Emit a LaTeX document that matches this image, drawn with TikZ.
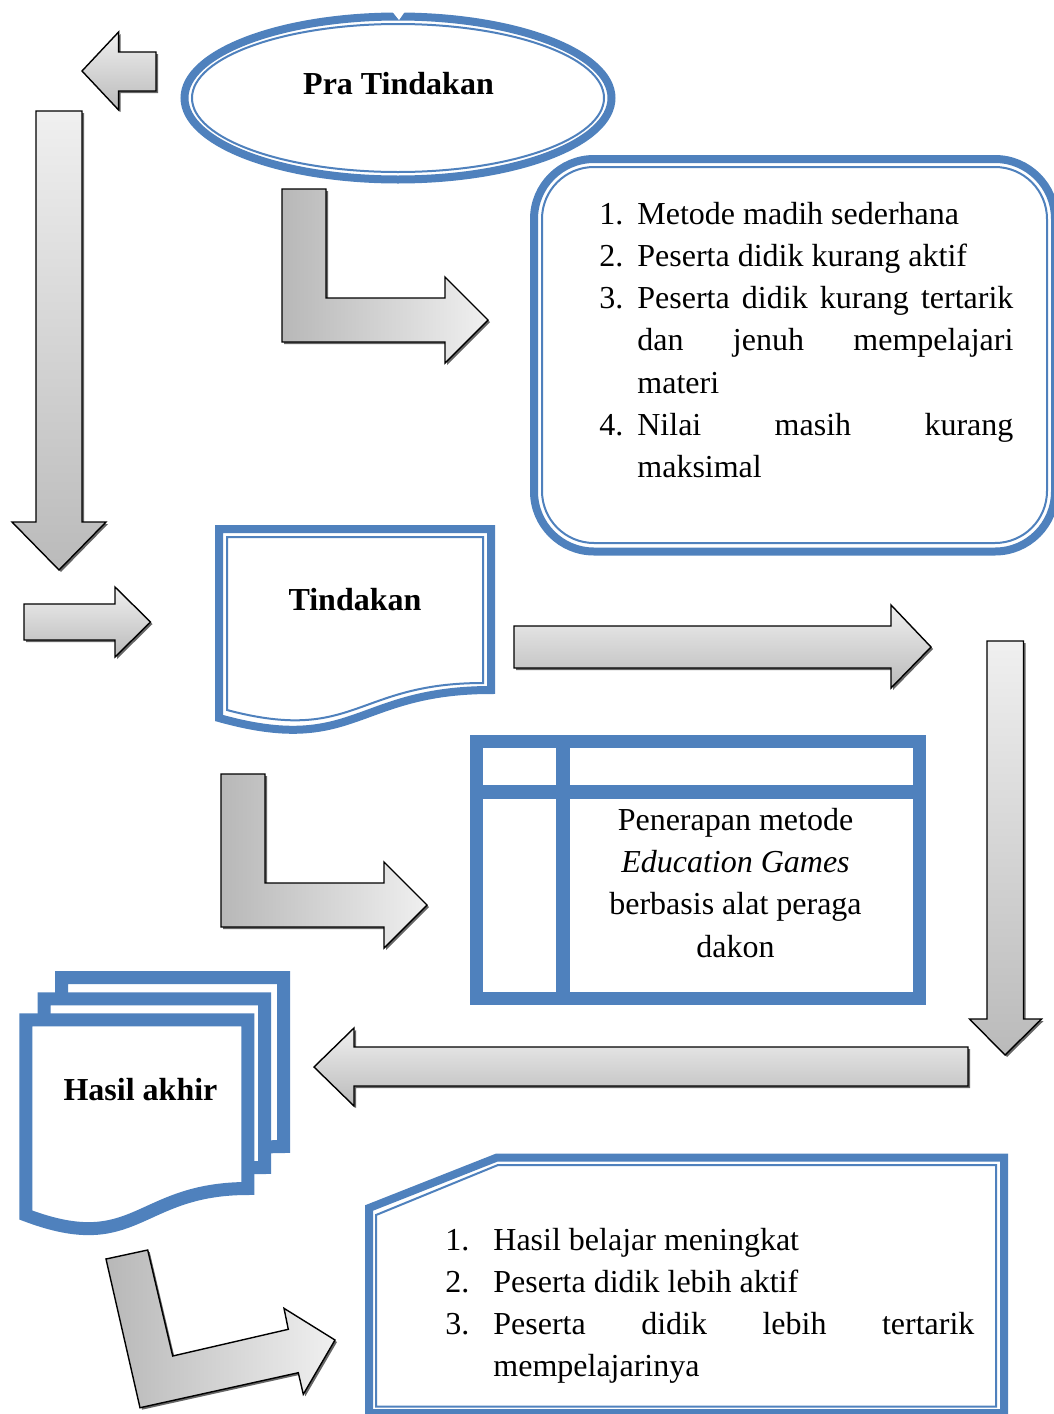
\documentclass[tikz,border=0pt]{standalone}
\usepackage{fontspec}
\setmainfont{Liberation Serif}
\definecolor{wblue}{HTML}{4F81BD}
\tikzset{
  arrowv/.style={draw=black, line width=0.7pt, top color=black!6, bottom color=black!27},
  arrowh/.style={draw=black, line width=0.7pt, left color=black!28, right color=black!6},
  thickb/.style={draw=wblue, line width=4pt},
  thinb/.style={draw=wblue, line width=1pt},
  sheet/.style={draw=wblue, line width=6.5pt, fill=white},
  title/.style={font=\bfseries\fontsize{16}{21}\selectfont, inner sep=0pt, anchor=base},
  listtext/.style={inner sep=0pt, anchor=base west},
}
\newcommand\barrow[2]{\fill[black!60, shift={(2,2)}] #2; \path[#1] #2;}
\begin{document}
\begin{tikzpicture}[x=0.5pt, y=-0.5pt]
\useasboundingbox (0,0) rectangle (1054,1414);
\clip (0,0) rectangle (1054,1414);

% ---------- Pra Tindakan ellipse
\draw[thickb, fill=white] (398,98) ellipse [x radius=106.75pt, y radius=40.75pt];
\draw[thinb] (398,98) ellipse [x radius=103pt, y radius=37pt];
\fill[white] (391,10) -- (406,10) -- (399,20) -- cycle;
\node[title] (pra) at (398.5,94) {Pra Tindakan};

% ---------- rounded list box
\draw[thickb, fill=white, rounded corners=30pt] (534,159) rectangle (1055,551.5);
\draw[thinb, rounded corners=26pt] (542,167) rectangle (1047,543);
\node[listtext] (list1) at (599,224) {\parbox[t]{207pt}{\fontsize{16}{21.15}\selectfont
\makebox[19pt][l]{1.}Metode madih sederhana\\
\makebox[19pt][l]{2.}Peserta didik kurang aktif\\
\makebox[19pt][l]{3.}\makebox[188pt][s]{Peserta didik kurang tertarik}\\
\hspace*{19pt}\makebox[188pt][s]{dan jenuh mempelajari}\\
\hspace*{19pt}materi\\
\makebox[19pt][l]{4.}\makebox[188pt][s]{Nilai masih kurang}\\
\hspace*{19pt}maksimal}};

% ---------- Tindakan document
\draw[thickb, fill=white] (219,529) -- (491,529) -- (491,690)
  .. controls (355,690) and (355,756) .. (219,718) -- cycle;
\draw[thinb] (227,537) -- (483,537) -- (483,683)
  .. controls (355,683) and (355,744) .. (227,710) -- cycle;
\node[title] (tind) at (355,610) {Tindakan};

% ---------- Penerapan table box
\draw[draw=wblue, line width=6.5pt, fill=white] (476,741.5) rectangle (919.5,998.5);
\draw[wblue, line width=6.8pt] (563,741.5) -- (563,998.5);
\draw[wblue, line width=7pt] (476,792) -- (919.5,792);
\node[inner sep=0pt, anchor=base] (pen) at (735.5,830.7) {\parbox[t]{150pt}{\centering\fontsize{16}{21.05}\selectfont
Penerapan metode\\
\textit{Education Games}\\
berbasis alat peraga\\
dakon}};

% ---------- Hasil akhir stacked documents
\draw[sheet] (61.5,977.5) -- (283.5,977.5) -- (283.5,1146.5)
  .. controls (172.5,1146.5) and (172.5,1214.7) .. (61.5,1172.7) -- cycle;
\draw[sheet] (44,998.8) -- (264.5,998.8) -- (264.5,1167.5)
  .. controls (154.3,1167.5) and (154.3,1236) .. (44,1194) -- cycle;
\draw[sheet] (25.8,1019.8) -- (247.8,1019.8) -- (247.8,1188.5)
  .. controls (136.8,1188.5) and (136.8,1257) .. (25.8,1215) -- cycle;
\node[title] (hasil) at (140.5,1100) {Hasil akhir};

% ---------- bottom result box
\draw[thickb, fill=white] (369,1208) -- (497,1157.5) -- (1004,1157.5) -- (1004,1413) -- (369,1413) -- cycle;
\draw[thinb] (376,1215) -- (498,1165) -- (996,1165) -- (996,1406.5) -- (376,1406.5) -- cycle;
\node[listtext] (list2) at (445,1250) {\parbox[t]{264.5pt}{\fontsize{16}{21}\selectfont
\makebox[24pt][l]{1.}Hasil belajar meningkat\\
\makebox[24pt][l]{2.}Peserta didik lebih aktif\\
\makebox[24pt][l]{3.}\makebox[240.5pt][s]{Peserta didik lebih tertarik}\\
\hspace*{24pt}mempelajarinya}};

% ---------- block arrows
\barrow{arrowv}{(156,52) -- (118.6,52) -- (118.6,32) -- (82,71) -- (118.6,110) -- (118.6,91) -- (156,91) -- cycle}
\barrow{arrowv}{(36,111) -- (82,111) -- (82,522) -- (106,522) -- (59,570) -- (12,522) -- (36,522) -- cycle}
\barrow{arrowv}{(24,604) -- (115,604) -- (115,587) -- (150.5,622) -- (115,657) -- (115,640) -- (24,640) -- cycle}
\barrow{arrowv}{(514,626) -- (891,626) -- (891,605) -- (931,647) -- (891,688) -- (891,668) -- (514,668) -- cycle}
\barrow{arrowv}{(987,641) -- (1023.5,641) -- (1023.5,1019) -- (1041.5,1019) -- (1005,1055) -- (969.5,1019) -- (987,1019) -- cycle}
\barrow{arrowv}{(968,1047) -- (354,1047) -- (354,1028) -- (314,1067) -- (354,1106) -- (354,1086) -- (968,1086) -- cycle}
\barrow{arrowh}{(282,189) -- (326,189) -- (326,298) -- (445,298) -- (445,277) -- (488,320) -- (445,363) -- (445,342) -- (282,342) -- cycle}
\barrow{arrowh}{(221,774) -- (265,774) -- (265,883) -- (384,883) -- (384,862) -- (427,905) -- (384,948) -- (384,927) -- (221,927) -- cycle}
\barrow{arrowh}{(106,1259) -- (147.7,1250) -- (172.7,1356) -- (288.3,1329.3) -- (284,1308.3) -- (335,1340) -- (303.3,1394.3) -- (298.3,1372.7) -- (140,1407.7) -- cycle}
\end{tikzpicture}
\end{document}
